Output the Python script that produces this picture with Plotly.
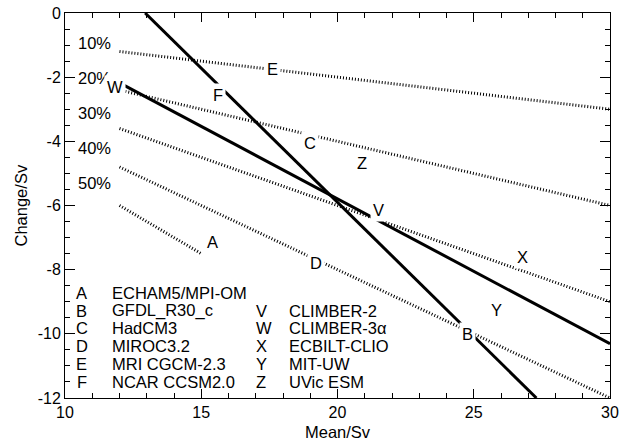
import plotly.graph_objects as go

# ---- data ----
pct_labels = ["10%", "20%", "30%", "40%", "50%"]
pct_label_y = [-0.95, -2.03, -3.12, -4.2, -5.3]
pct_x_start = [12, 12, 12, 12, 12]
pct_x_end = [30, 30, 30, 30, 15]
pct_y_start = [-1.2, -2.4, -3.6, -4.8, -6.0]
pct_y_end = [-3.0, -6.0, -9.0, -12.0, -7.5]

steep_x = [12.94, 27.3]
steep_y = [0.0, -12.0]
shallow_x = [12.0, 30.0]
shallow_y = [-2.18, -10.31]

model_letters = ["A", "B", "C", "D", "E", "F", "V", "W", "X", "Y", "Z"]
model_x = [15.4, 24.78, 19.0, 19.2, 17.6, 15.62, 21.5, 11.84, 26.8, 25.85, 20.9]
model_y = [-7.13, -10.0, -4.06, -7.78, -1.75, -2.55, -6.14, -2.31, -7.6, -9.25, -4.67]

legend_col1_letters = ["A", "B", "C", "D", "E", "F"]
legend_col1_names = ["ECHAM5/MPI-OM", "GFDL_R30_c", "HadCM3", "MIROC3.2", "MRI CGCM-2.3", "NCAR CCSM2.0"]
legend_col2_letters = ["V", "W", "X", "Y", "Z"]
legend_col2_names = ["CLIMBER-2", "CLIMBER-3\u03b1", "ECBILT-CLIO", "MIT-UW", "UVic ESM"]
legend_rows_y = [-8.72, -9.28, -9.81, -10.37, -10.95, -11.51]

x_ticks = [10, 15, 20, 25, 30]
y_ticks = [0, -2, -4, -6, -8, -10, -12]
y_ticktext = ["0", "-2", "-4", "-6", "-8", "-10", "-12"]

FONT = "Liberation Sans, Arial, Helvetica, sans-serif"
FS = 16.5
TFS = 16

fig = go.Figure()

for xs, xe, ys, ye in zip(pct_x_start, pct_x_end, pct_y_start, pct_y_end):
    fig.add_trace(go.Scatter(x=[xs, xe], y=[ys, ye], mode="lines",
                             line=dict(color="black", width=3, dash="1px,2px"),
                             hoverinfo="skip", showlegend=False))

fig.add_trace(go.Scatter(x=steep_x, y=steep_y, mode="lines",
                         line=dict(color="black", width=3), showlegend=False))
fig.add_trace(go.Scatter(x=shallow_x, y=shallow_y, mode="lines",
                         line=dict(color="black", width=3), showlegend=False))

ann = []
for lab, yy in zip(pct_labels, pct_label_y):
    ann.append(dict(x=10.4, y=yy, text=lab, showarrow=False, xanchor="left",
                    yanchor="middle", font=dict(size=FS, color="black", family=FONT)))
for lab, xx, yy in zip(model_letters, model_x, model_y):
    ann.append(dict(x=xx, y=yy, text=lab, showarrow=False, xanchor="center",
                    yanchor="middle", bgcolor="white", borderpad=2,
                    font=dict(size=FS, color="black", family=FONT)))
for i, (l, n) in enumerate(zip(legend_col1_letters, legend_col1_names)):
    ann.append(dict(x=10.62, y=legend_rows_y[i], text=l, showarrow=False, xanchor="center",
                    yanchor="middle", font=dict(size=FS, color="black", family=FONT)))
    ann.append(dict(x=11.65, y=legend_rows_y[i], text=n, showarrow=False, xanchor="left",
                    yanchor="middle", font=dict(size=FS, color="black", family=FONT)))
for i, (l, n) in enumerate(zip(legend_col2_letters, legend_col2_names)):
    ann.append(dict(x=16.95, y=legend_rows_y[i + 1], text=l, showarrow=False, xanchor="left",
                    yanchor="middle", font=dict(size=FS, color="black", family=FONT)))
    ann.append(dict(x=18.16, y=legend_rows_y[i + 1], text=n, showarrow=False, xanchor="left",
                    yanchor="middle", font=dict(size=FS, color="black", family=FONT)))

# axis titles
ann.append(dict(xref="paper", yref="paper", x=0.5, y=0, yshift=-34, text="Mean/Sv",
                showarrow=False, xanchor="center", yanchor="middle",
                font=dict(size=FS, color="black", family=FONT)))
ann.append(dict(xref="paper", yref="paper", x=0, y=0.5, xshift=-45, text="Change/Sv",
                textangle=-90, showarrow=False, xanchor="center", yanchor="middle",
                font=dict(size=FS, color="black", family=FONT)))

fig.update_layout(
    width=619, height=440,
    margin=dict(l=65, r=9, t=13, b=42, autoexpand=False),
    plot_bgcolor="white", paper_bgcolor="white",
    font=dict(family=FONT, size=FS, color="black"),
    annotations=ann,
    showlegend=False,
)
fig.update_xaxes(range=[10, 30], tickvals=x_ticks, ticktext=[str(v) for v in x_ticks],
                 ticks="inside", ticklen=9, tickwidth=1, tickcolor="black",
                 minor=dict(dtick=1, tick0=10, ticks="inside", ticklen=5, tickcolor="black"),
                 showline=True, linecolor="black", linewidth=1, mirror="ticks",
                 showgrid=False, zeroline=False, automargin=False,
                 tickfont=dict(size=TFS, color="black", family=FONT))
fig.update_yaxes(range=[-12, 0], tickvals=y_ticks, ticktext=y_ticktext,
                 ticks="inside", ticklen=10, tickwidth=1, tickcolor="black",
                 minor=dict(dtick=0.5, tick0=0, ticks="inside", ticklen=5, tickcolor="black"),
                 showline=True, linecolor="black", linewidth=1, mirror="ticks",
                 showgrid=False, zeroline=False, automargin=False,
                 tickfont=dict(size=TFS, color="black", family=FONT))

fig.write_html("out.html", config={"displayModeBar": False},
               post_script="document.body.style.margin='0';document.body.style.overflow='hidden';")
